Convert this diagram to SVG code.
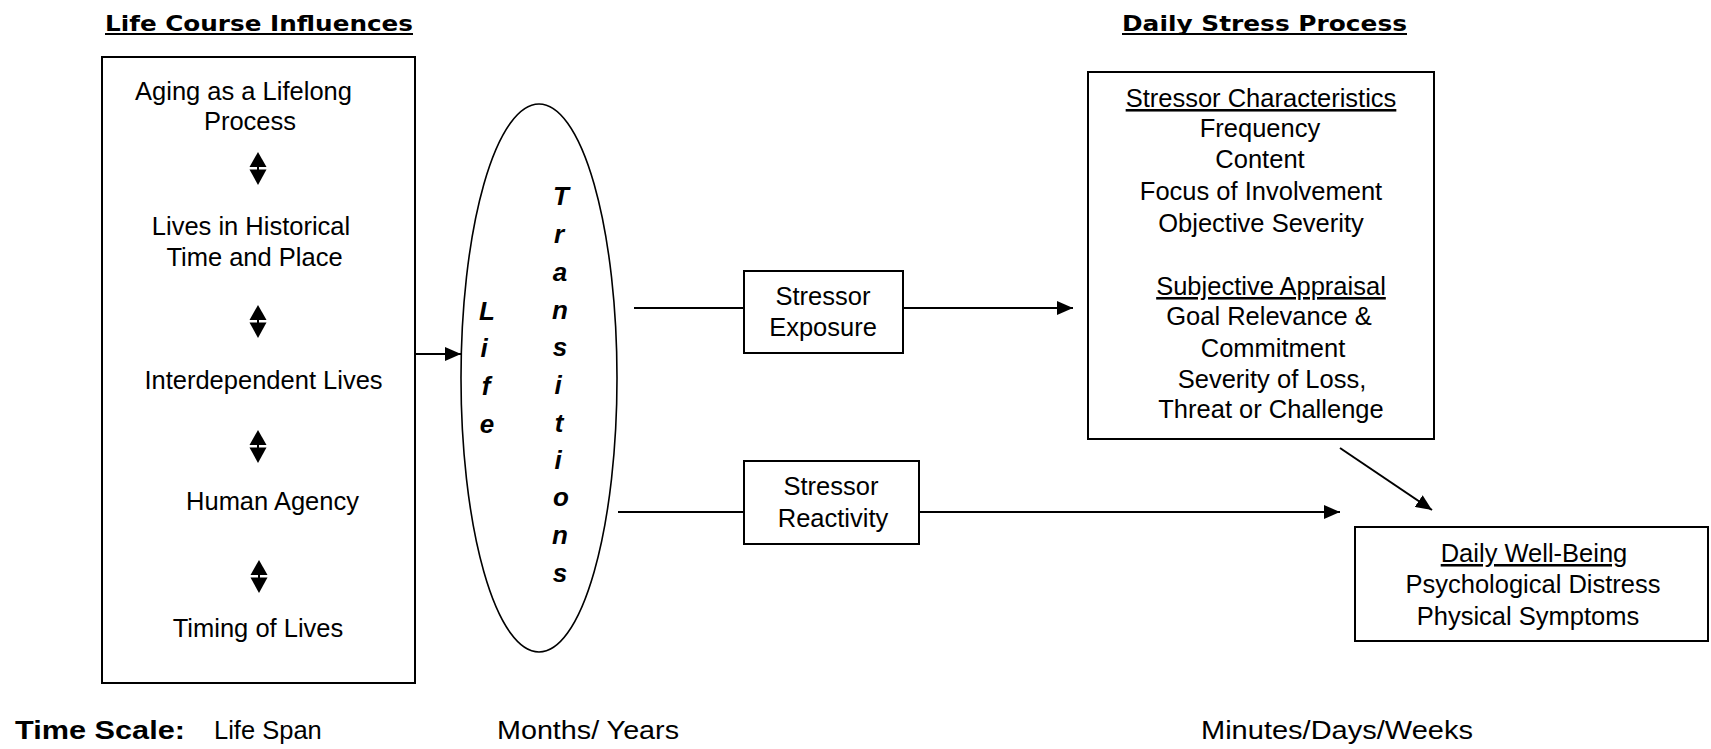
<svg xmlns="http://www.w3.org/2000/svg" width="1711" height="749" viewBox="0 0 1711 749">
<style>
.t{font-family:"Liberation Sans",Arial,sans-serif;font-size:25.5px;fill:#000;text-anchor:middle}
.ts{font-family:"Liberation Sans",Arial,sans-serif;font-size:25.5px;fill:#000}
.h{font-family:"DejaVu Sans","Liberation Sans",sans-serif;font-weight:bold;font-size:21px;fill:#000}
.v{font-family:"Liberation Sans",Arial,sans-serif;font-size:26px;font-weight:bold;font-style:italic;fill:#000;text-anchor:middle}
.box{fill:#fff;stroke:#000;stroke-width:2}
.ln{stroke:#000;stroke-width:2;fill:none}
.u{text-decoration:underline}
</style>
<defs>
<marker id="ah" markerWidth="16" markerHeight="14" refX="16" refY="7" orient="auto" markerUnits="userSpaceOnUse">
<path d="M0,0 L16,7 L0,14 z" fill="#000"/>
</marker>
<g id="dbl">
<polygon points="-8.5,15 0,0 8.5,15" fill="#000"/>
<polygon points="-8.5,17.5 8.5,17.5 0,33" fill="#000"/>
<rect x="-1" y="14" width="2" height="4" fill="#000"/>
</g>
</defs>
<rect width="1711" height="749" fill="#fff"/>

<g id="titles">
<text class="h" x="105" y="31" textLength="308" lengthAdjust="spacingAndGlyphs">Life Course Influences</text>
<rect x="105" y="33" width="308" height="2" fill="#000"/>
<text class="h" x="1122" y="31" textLength="285" lengthAdjust="spacingAndGlyphs">Daily Stress Process</text>
<rect x="1122" y="33" width="285" height="2" fill="#000"/>
</g>

<g id="connectors">
<line class="ln" x1="415" y1="354" x2="461" y2="354" marker-end="url(#ah)"/>
<line class="ln" x1="634" y1="308" x2="744" y2="308"/>
<line class="ln" x1="903" y1="308" x2="1073" y2="308" marker-end="url(#ah)"/>
<line class="ln" x1="618" y1="512" x2="744" y2="512"/>
<line class="ln" x1="920" y1="512" x2="1340" y2="512" marker-end="url(#ah)"/>
<line class="ln" x1="1340" y1="448" x2="1432" y2="510" marker-end="url(#ah)"/>
</g>

<g id="life-course">
<rect class="box" x="102" y="57" width="313" height="626"/>
<text class="t" x="243.5" y="100">Aging as a Lifelong</text>
<text class="t" x="250" y="130">Process</text>
<use href="#dbl" x="258" y="152"/>
<text class="t" x="251" y="235">Lives in Historical</text>
<text class="t" x="254.5" y="266">Time and Place</text>
<use href="#dbl" x="258" y="305"/>
<text class="t" x="263.5" y="389">Interdependent Lives</text>
<use href="#dbl" x="258" y="430"/>
<text class="t" x="272.5" y="510">Human Agency</text>
<use href="#dbl" x="259" y="560"/>
<text class="t" x="258" y="637">Timing of Lives</text>
</g>

<g id="life-transitions">
<ellipse cx="539" cy="378" rx="78" ry="274" fill="none" stroke="#000" stroke-width="1.6"/>
<text class="v" x="487" y="320">L</text>
<text class="v" x="484" y="357">i</text>
<text class="v" x="486" y="395">f</text>
<text class="v" x="487" y="433">e</text>
<text class="v" x="561" y="205">T</text>
<text class="v" x="559" y="243">r</text>
<text class="v" x="560" y="281">a</text>
<text class="v" x="560" y="319">n</text>
<text class="v" x="560" y="356">s</text>
<text class="v" x="558" y="394">i</text>
<text class="v" x="559" y="432">t</text>
<text class="v" x="558" y="469">i</text>
<text class="v" x="561" y="506">o</text>
<text class="v" x="560" y="544">n</text>
<text class="v" x="560" y="582">s</text>
</g>

<g id="stressor-exposure">
<rect class="box" x="744" y="271" width="159" height="82"/>
<text class="t" x="823" y="305">Stressor</text>
<text class="t" x="823" y="336">Exposure</text>
</g>

<g id="stressor-reactivity">
<rect class="box" x="744" y="461" width="175" height="83"/>
<text class="t" x="831" y="495">Stressor</text>
<text class="t" x="833" y="527">Reactivity</text>
</g>

<g id="stressor-characteristics">
<rect class="box" x="1088" y="72" width="346" height="367"/>
<text class="t u" x="1261" y="107">Stressor Characteristics</text>
<text class="t" x="1260" y="137">Frequency</text>
<text class="t" x="1260" y="168">Content</text>
<text class="t" x="1261" y="200">Focus of Involvement</text>
<text class="t" x="1261" y="232">Objective Severity</text>
<text class="t u" x="1271" y="295">Subjective Appraisal</text>
<text class="t" x="1269" y="325">Goal Relevance &amp;</text>
<text class="t" x="1273" y="357">Commitment</text>
<text class="t" x="1272" y="388">Severity of Loss,</text>
<text class="t" x="1271" y="418">Threat or Challenge</text>
</g>

<g id="daily-well-being">
<rect class="box" x="1355" y="527" width="353" height="114"/>
<text class="t u" x="1534" y="562">Daily Well-Being</text>
<text class="t" x="1533" y="593">Psychological Distress</text>
<text class="t" x="1528" y="625">Physical Symptoms</text>
</g>

<g id="time-scale">
<text class="ts" x="15" y="739" font-weight="bold" textLength="170" lengthAdjust="spacingAndGlyphs">Time Scale:</text>
<text class="ts" x="214" y="739">Life Span</text>
<text class="ts" x="497" y="739" textLength="182" lengthAdjust="spacingAndGlyphs">Months/ Years</text>
<text class="ts" x="1201" y="739" textLength="272" lengthAdjust="spacingAndGlyphs">Minutes/Days/Weeks</text>
</g>
</svg>
